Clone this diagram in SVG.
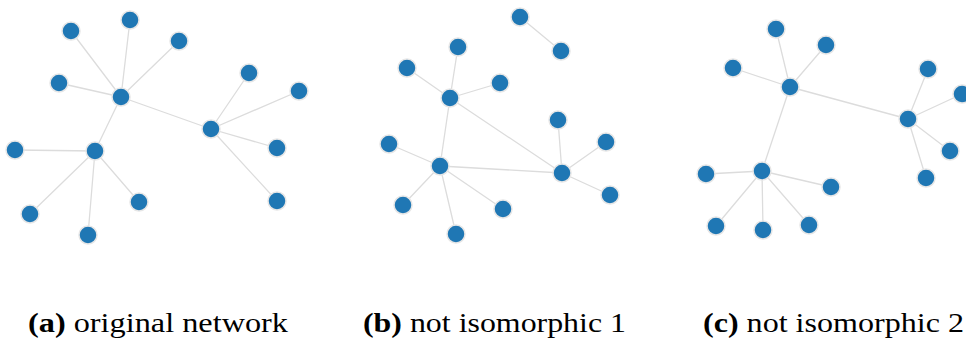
<svg xmlns="http://www.w3.org/2000/svg" width="966" height="344" viewBox="0 0 966 344">
<style>
.n{fill:#1f77b4;stroke:#e6e6e6;stroke-width:1.5}
.e{stroke:#dcdcdc;stroke-width:1.3;fill:none}
</style>
<rect width="966" height="344" fill="#fff"/>
<g id="connectors">
<path class="e" d="M121 97L71 31M121 97L130 20M121 97L179 41M121 97L59 83M121 97L211 129M121 97L95 151M211 129L249 73M211 129L299 91M211 129L277 148M211 129L277 201M95 151L15 150M95 151L30 214M95 151L88 235M95 151L139 202"/>
<path class="e" d="M520 17L561 51M450 98L458 47M450 98L407 68M450 98L500 83M450 98L440 166M450 98L562 173M440 166L389 144M440 166L403 205M440 166L456 234M440 166L503 209M440 166L562 173M562 173L558 120M562 173L606 142M562 173L610 195"/>
<path class="e" d="M790 87L776 29M790 87L826 45M790 87L733 68M790 87L908 119M790 87L762 171M908 119L928 69M908 119L962 94M908 119L950 151M908 119L926 178M762 171L706 174M762 171L716 226M762 171L763 230M762 171L809 225M762 171L831 187"/>
</g>
<g id="panel-a">
<g id="a-hub1"><circle class="n" cx="121" cy="97" r="9"/></g>
<g id="a-n1"><circle class="n" cx="71" cy="31" r="9"/></g>
<g id="a-n2"><circle class="n" cx="130" cy="20" r="9"/></g>
<g id="a-n3"><circle class="n" cx="179" cy="41" r="9"/></g>
<g id="a-n4"><circle class="n" cx="59" cy="83" r="9"/></g>
<g id="a-hub2"><circle class="n" cx="211" cy="129" r="9"/></g>
<g id="a-n5"><circle class="n" cx="249" cy="73" r="9"/></g>
<g id="a-n6"><circle class="n" cx="299" cy="91" r="9"/></g>
<g id="a-n7"><circle class="n" cx="277" cy="148" r="9"/></g>
<g id="a-n8"><circle class="n" cx="277" cy="201" r="9"/></g>
<g id="a-hub3"><circle class="n" cx="95" cy="151" r="9"/></g>
<g id="a-n9"><circle class="n" cx="15" cy="150" r="9"/></g>
<g id="a-n10"><circle class="n" cx="30" cy="214" r="9"/></g>
<g id="a-n11"><circle class="n" cx="88" cy="235" r="9"/></g>
<g id="a-n12"><circle class="n" cx="139" cy="202" r="9"/></g>
</g>
<g id="panel-b">
<g id="b-p1"><circle class="n" cx="520" cy="17" r="9"/></g>
<g id="b-p2"><circle class="n" cx="561" cy="51" r="9"/></g>
<g id="b-hub1"><circle class="n" cx="450" cy="98" r="9"/></g>
<g id="b-n1"><circle class="n" cx="458" cy="47" r="9"/></g>
<g id="b-n2"><circle class="n" cx="407" cy="68" r="9"/></g>
<g id="b-n3"><circle class="n" cx="500" cy="83" r="9"/></g>
<g id="b-hub2"><circle class="n" cx="440" cy="166" r="9"/></g>
<g id="b-n4"><circle class="n" cx="389" cy="144" r="9"/></g>
<g id="b-n5"><circle class="n" cx="403" cy="205" r="9"/></g>
<g id="b-n6"><circle class="n" cx="456" cy="234" r="9"/></g>
<g id="b-n7"><circle class="n" cx="503" cy="209" r="9"/></g>
<g id="b-hub3"><circle class="n" cx="562" cy="173" r="9"/></g>
<g id="b-n8"><circle class="n" cx="558" cy="120" r="9"/></g>
<g id="b-n9"><circle class="n" cx="606" cy="142" r="9"/></g>
<g id="b-n10"><circle class="n" cx="610" cy="195" r="9"/></g>
</g>
<g id="panel-c">
<g id="c-hub1"><circle class="n" cx="790" cy="87" r="9"/></g>
<g id="c-n1"><circle class="n" cx="776" cy="29" r="9"/></g>
<g id="c-n2"><circle class="n" cx="826" cy="45" r="9"/></g>
<g id="c-n3"><circle class="n" cx="733" cy="68" r="9"/></g>
<g id="c-hub2"><circle class="n" cx="908" cy="119" r="9"/></g>
<g id="c-n4"><circle class="n" cx="928" cy="69" r="9"/></g>
<g id="c-n5"><circle class="n" cx="962" cy="94" r="9"/></g>
<g id="c-n6"><circle class="n" cx="950" cy="151" r="9"/></g>
<g id="c-n7"><circle class="n" cx="926" cy="178" r="9"/></g>
<g id="c-hub3"><circle class="n" cx="762" cy="171" r="9"/></g>
<g id="c-n8"><circle class="n" cx="706" cy="174" r="9"/></g>
<g id="c-n9"><circle class="n" cx="716" cy="226" r="9"/></g>
<g id="c-n10"><circle class="n" cx="763" cy="230" r="9"/></g>
<g id="c-n11"><circle class="n" cx="809" cy="225" r="9"/></g>
<g id="c-n12"><circle class="n" cx="831" cy="187" r="9"/></g>
</g>
<g id="captions" font-family="Liberation Serif, Times New Roman, serif" font-size="27" fill="#000">
<text x="28" y="332" textLength="260" lengthAdjust="spacingAndGlyphs"><tspan font-weight="bold">(a)</tspan> original network</text>
<text x="363" y="332" textLength="263" lengthAdjust="spacingAndGlyphs"><tspan font-weight="bold">(b)</tspan> not isomorphic 1</text>
<text x="703" y="332" textLength="261" lengthAdjust="spacingAndGlyphs"><tspan font-weight="bold">(c)</tspan> not isomorphic 2</text>
</g>
</svg>
